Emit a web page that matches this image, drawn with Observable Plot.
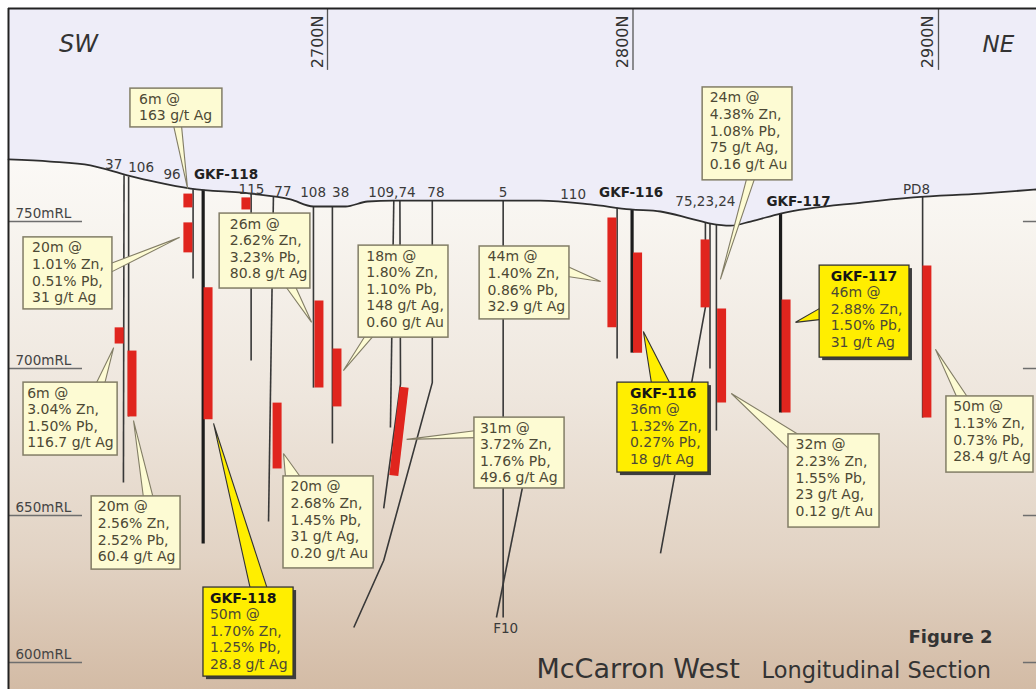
<!DOCTYPE html>
<html><head><meta charset="utf-8">
<script src="https://cdn.jsdelivr.net/npm/d3@7"></script>
<script src="https://cdn.jsdelivr.net/npm/@observablehq/plot@0.6"></script>
<style>
html,body{margin:0;padding:0;background:#fff;overflow:hidden;}
#chart svg{display:block;}
</style></head><body><div id="chart"></div>
<script>
// ---- frame (northing in m, RL in m) ----
const northingDomain = [2595.58, 2932.08];
const rlDomain = [590.82, 822.45];
const northingTicks = [2700, 2800, 2900];
const northingTickBottom = 801.4;
const rlTicks = [600, 650, 700, 750];
const rlTickLeftEnd = 2619.8;
const rlTickRightStart = 2927.8;

// ---- topographic surface ----
const surface = [
  [2595.6,771.1],[2609.3,770.4],[2622.4,769.1],[2634.5,765.7],[2644.4,763.3],[2655.2,761.2],
  [2674.8,759.5],[2687.9,757.5],[2695.4,755.1],[2705.9,755.1],[2713.1,756.8],[2721.6,757.1],
  [2769.7,757.1],[2786.1,755.8],[2799.2,754.1],[2809.0,753.4],[2818.8,751.0],[2825.4,749.3],
  [2831.9,748.6],[2838.5,750.0],[2848.3,752.7],[2875.5,756.5],[2891.8,758.2],[2913.8,759.5],
  [2932.1,760.9]
];

// ---- drill hole traces ----
const holes = [
  {name:"37", heavy:false, path:[[2633.4,765.7],[2633.2,661.2]]},
  {name:"106", heavy:false, path:[[2634.9,765.3],[2634.9,683.7]]},
  {name:"96", heavy:false, path:[[2656.0,761.0],[2656.0,730.6]]},
  {name:"GKF-118", heavy:true, path:[[2659.3,760.8],[2659.3,640.5]]},
  {name:"115", heavy:false, path:[[2675.0,759.5],[2675.0,702.7]]},
  {name:"77", heavy:false, path:[[2682.3,758.5],[2680.7,648.0]]},
  {name:"108", heavy:false, path:[[2695.4,755.1],[2695.4,693.5]]},
  {name:"38", heavy:false, path:[[2701.6,755.1],[2701.6,674.5]]},
  {name:"109", heavy:false, path:[[2721.7,757.1],[2720.6,679.9]]},
  {name:"74", heavy:false, path:[[2723.7,757.1],[2723.9,694.8],[2718.4,652.4]]},
  {name:"78", heavy:false, path:[[2734.3,757.1],[2734.3,695.2],[2718.4,634.7],[2708.6,611.9]]},
  {name:"5", heavy:false, path:[[2757.5,757.1],[2757.5,615.3]]},
  {name:"F10", heavy:false, path:[[2763.8,659.5],[2755.3,615.3]]},
  {name:"110", heavy:false, path:[[2794.8,754.7],[2794.8,703.4]]},
  {name:"GKF-116", heavy:true, path:[[2799.7,754.1],[2799.7,705.4]]},
  {name:"75", heavy:false, path:[[2823.7,749.7],[2823.7,720.8],[2809.0,637.1]]},
  {name:"23", heavy:false, path:[[2825.2,749.3],[2825.2,700.0]]},
  {name:"24", heavy:false, path:[[2827.3,749.1],[2827.3,678.9]]},
  {name:"GKF-117", heavy:true, path:[[2848.3,752.7],[2848.3,685.0]]},
  {name:"PD8", heavy:false, path:[[2894.8,758.4],[2894.8,683.3]]}
];

// ---- mineralised intercepts ----
const intercepts = [
  {hole:"37", x1:2631.8, y1:714.0, x2:2631.8, y2:708.5},
  {hole:"106", x1:2636.0, y1:706.1, x2:2636.0, y2:683.7},
  {hole:"96", x1:2654.3, y1:759.5, x2:2654.3, y2:754.8},
  {hole:"96", x1:2654.3, y1:749.7, x2:2654.3, y2:739.5},
  {hole:"GKF-118", x1:2660.9, y1:727.6, x2:2660.9, y2:682.7},
  {hole:"115", x1:2673.3, y1:758.2, x2:2673.3, y2:754.1},
  {hole:"77", x1:2683.5, y1:688.4, x2:2683.5, y2:666.0},
  {hole:"108", x1:2697.2, y1:723.1, x2:2697.2, y2:693.5},
  {hole:"38", x1:2703.1, y1:706.8, x2:2703.1, y2:687.1},
  {hole:"74", x1:2725.1, y1:693.6, x2:2721.7, y2:663.6},
  {hole:"110", x1:2793.1, y1:751.4, x2:2793.1, y2:714.0},
  {hole:"GKF-116", x1:2801.5, y1:739.5, x2:2801.5, y2:705.4},
  {hole:"75", x1:2823.6, y1:743.9, x2:2823.6, y2:720.8},
  {hole:"24", x1:2829.0, y1:720.4, x2:2829.0, y2:688.4},
  {hole:"GKF-117", x1:2850.1, y1:723.5, x2:2850.1, y2:685.0},
  {hole:"PD8", x1:2896.2, y1:735.0, x2:2896.2, y2:683.3}
];

// ---- callout boxes ----
const callouts = [
  {id:1, hi:false, x1:2635.5, x2:2665.6, top:795.2, bottom:782.0, tx:2638.3, title:"", body:"6m @\n163 g/t Ag", wedge:[[2649.6,782.7],[2654.2,761.2],[2652.2,782.7]]},
  {id:2, hi:false, x1:2600.5, x2:2629.6, top:744.6, bottom:720.1, tx:2603.3, title:"", body:"20m @\n1.01% Zn,\n0.51% Pb,\n31 g/t Ag", wedge:[[2629.0,735.7],[2651.6,744.6],[2629.0,732.7]]},
  {id:3, hi:false, x1:2600.5, x2:2631.3, top:695.2, bottom:670.4, tx:2601.7, title:"", body:"6m @\n3.04% Zn,\n1.50% Pb,\n116.7 g/t Ag", wedge:[[2624.1,694.6],[2630.0,707.1],[2627.0,694.6]]},
  {id:4, hi:false, x1:2622.8, x2:2651.9, top:656.5, bottom:631.6, tx:2624.8, title:"", body:"20m @\n2.56% Zn,\n2.52% Pb,\n60.4 g/t Ag", wedge:[[2639.8,655.8],[2636.5,682.3],[2643.0,655.8]]},
  {id:5, hi:false, x1:2664.7, x2:2694.4, top:752.7, bottom:727.2, tx:2668.0, title:"", body:"26m @\n2.62% Zn,\n3.23% Pb,\n80.8 g/t Ag", wedge:[[2686.3,727.9],[2694.8,715.7],[2689.5,727.9]]},
  {id:6, hi:false, x1:2710.2, x2:2739.6, top:741.8, bottom:710.5, tx:2712.7, title:"", body:"18m @\n1.80% Zn,\n1.10% Pb,\n148 g/t Ag,\n0.60 g/t Au", wedge:[[2712.4,711.2],[2705.2,699.3],[2715.1,711.2]]},
  {id:7, hi:false, x1:2749.8, x2:2779.2, top:741.5, bottom:716.7, tx:2752.4, title:"", body:"44m @\n1.40% Zn,\n0.86% Pb,\n32.9 g/t Ag", wedge:[[2778.6,734.7],[2789.4,729.6],[2778.6,731.3]]},
  {id:8, hi:false, x1:2748.1, x2:2777.6, top:683.3, bottom:659.2, tx:2749.9, title:"", body:"31m @\n3.72% Zn,\n1.76% Pb,\n49.6 g/t Ag", wedge:[[2748.8,678.9],[2725.9,675.9],[2748.8,676.5]]},
  {id:9, hi:true, x1:2794.9, x2:2824.7, top:695.2, bottom:664.6, tx:2799.0, title:"GKF-116", body:"36m @\n1.32% Zn,\n0.27% Pb,\n18 g/t Ag", wedge:[[2806.1,694.6],[2803.4,712.6],[2812.3,694.6]]},
  {id:10, hi:false, x1:2822.8, x2:2852.2, top:795.6, bottom:764.0, tx:2825.1, title:"", body:"24m @\n4.38% Zn,\n1.08% Pb,\n75 g/t Ag,\n0.16 g/t Au", wedge:[[2837.2,764.6],[2828.6,730.3],[2839.8,764.6]]},
  {id:11, hi:true, x1:2861.1, x2:2890.5, top:735.0, bottom:703.7, tx:2864.7, title:"GKF-117", body:"46m @\n2.88% Zn,\n1.50% Pb,\n31 g/t Ag", wedge:[[2861.7,720.8],[2853.2,715.7],[2861.7,716.7]]},
  {id:12, hi:false, x1:2850.9, x2:2880.7, top:677.6, bottom:645.9, tx:2853.2, title:"", body:"32m @\n2.23% Zn,\n1.55% Pb,\n23 g/t Ag,\n0.12 g/t Au", wedge:[[2851.6,672.1],[2832.2,691.5],[2855.2,676.9]]},
  {id:13, hi:false, x1:2902.6, x2:2931.1, top:690.5, bottom:664.6, tx:2904.8, title:"", body:"50m @\n1.13% Zn,\n0.73% Pb,\n28.4 g/t Ag", wedge:[[2906.2,689.8],[2899.0,706.5],[2909.8,689.8]]},
  {id:14, hi:true, x1:2659.4, x2:2688.9, top:625.5, bottom:595.2, tx:2661.5, title:"GKF-118", body:"50m @\n1.70% Zn,\n1.25% Pb,\n28.8 g/t Ag", wedge:[[2674.8,624.8],[2662.7,681.3],[2680.4,624.8]]},
  {id:15, hi:false, x1:2685.6, x2:2715.1, top:663.3, bottom:632.0, tx:2687.9, title:"", body:"20m @\n2.68% Zn,\n1.45% Pb,\n31 g/t Ag,\n0.20 g/t Au", wedge:[[2686.3,662.6],[2685.6,671.1],[2691.5,662.6]]}
];

// ---- hole labels ----
const holeLabels = [
  {text:"37", x:2630.0, y:768.0, bold:false},
  {text:"106", x:2639.0, y:766.7, bold:false},
  {text:"96", x:2649.1, y:764.6, bold:false},
  {text:"GKF-118", x:2666.8, y:764.6, bold:true},
  {text:"115", x:2675.1, y:759.5, bold:false},
  {text:"77", x:2685.4, y:758.8, bold:false},
  {text:"108", x:2695.3, y:758.5, bold:false},
  {text:"38", x:2704.3, y:758.5, bold:false},
  {text:"109,74", x:2721.1, y:758.2, bold:false},
  {text:"78", x:2735.5, y:758.5, bold:false},
  {text:"5", x:2757.5, y:758.5, bold:false},
  {text:"110", x:2780.4, y:757.8, bold:false},
  {text:"GKF-116", x:2799.4, y:758.2, bold:true},
  {text:"75,23,24", x:2823.7, y:755.4, bold:false},
  {text:"GKF-117", x:2854.2, y:755.4, bold:true},
  {text:"PD8", x:2892.8, y:759.5, bold:false},
  {text:"F10", x:2758.3, y:609.9, bold:false}
];

// ---- titles ----
const titles = [
  {text:"SW", x:2618.5, y:807.5, anchor:"middle", size:24, weight:"normal", style:"italic"},
  {text:"NE", x:2919.6, y:807.5, anchor:"middle", size:23, weight:"normal", style:"italic"},
  {text:"Figure 2", x:2917.7, y:606.8, anchor:"end", size:18, weight:"bold", style:"normal"},
  {text:"McCarron West", x:2768.4, y:594.9, anchor:"start", size:27, weight:"normal", style:"normal"},
  {text:"Longitudinal Section", x:2842.1, y:594.9, anchor:"start", size:22.5, weight:"normal", style:"normal"}
];

// ---- derived tables ----
const holePts = holes.flatMap(h => h.path.map(([x, y]) => ({name: h.name, heavy: h.heavy, x, y})));
const wedgePts = callouts.flatMap(c => c.wedge.map(([x, y]) => ({id: c.id, hi: c.hi, x, y})));
const plain = callouts.filter(c => !c.hi);
const hiBoxes = callouts.filter(c => c.hi);

const FONT = "'DejaVu Sans', Verdana, sans-serif";
const BOX_FILL = "#fdfbd3", BOX_STROKE = "#827d66", HI_FILL = "#ffee00";
const TXT = "#4d4935";
const LH = 1.186;

const defsMark = () => {
  const defs = d3.create("svg:defs");
  const g = defs.append("linearGradient").attr("id", "groundGrad")
    .attr("x1", 0).attr("y1", 0).attr("x2", 0).attr("y2", 1);
  [[0, "#fbf9f6"], [0.12, "#f8f5f0"], [0.45, "#eee6dd"], [0.75, "#e2d3c4"], [1, "#d3bba5"]]
    .forEach(([o, c]) => g.append("stop").attr("offset", o).attr("stop-color", c));
  return defs.node();
};

const chart = Plot.plot({
  width: 1036, height: 689,
  marginLeft: 8, marginTop: 8, marginRight: 0, marginBottom: 0,
  x: {domain: northingDomain, axis: null},
  y: {domain: rlDomain, axis: null},
  style: {fontFamily: FONT, background: "#fff", overflow: "visible"},
  marks: [
    defsMark,
    Plot.areaY(surface, {x: d => d[0], y1: () => rlDomain[0], y2: d => d[1], fill: "url(#groundGrad)", curve: "monotone-x"}),
    Plot.areaY(surface, {x: d => d[0], y1: d => d[1], y2: () => rlDomain[1], fill: "#eeedf8", curve: "monotone-x"}),
    // RL ticks
    Plot.ruleY(rlTicks, {x1: () => northingDomain[0], x2: () => rlTickLeftEnd, stroke: "#6e6e6e", strokeWidth: 1.5}),
    Plot.ruleY(rlTicks, {x1: () => rlTickRightStart, x2: () => northingDomain[1], stroke: "#6e6e6e", strokeWidth: 1.5}),
    Plot.text(rlTicks, {x: () => northingDomain[0], y: d => d, text: d => d + "mRL", textAnchor: "start", lineAnchor: "bottom", dx: 7, dy: -4, fontSize: 13.5, fill: "#444"}),
    // northing ticks
    Plot.ruleX(northingTicks, {y1: () => northingTickBottom, y2: () => rlDomain[1], stroke: "#555", strokeWidth: 1.3}),
    Plot.text(northingTicks, {x: d => d, y: () => rlDomain[1], text: d => d + "N", rotate: -90, textAnchor: "end", lineAnchor: "bottom", dx: -5, dy: 7, fontSize: 16, fill: "#333"}),
    // drill holes
    Plot.line(holePts.filter(d => !d.heavy), {x: "x", y: "y", z: "name", stroke: "#383838", strokeWidth: 1.6, strokeLinecap: "butt"}),
    Plot.line(holePts.filter(d => d.heavy), {x: "x", y: "y", z: "name", stroke: "#1c1c1c", strokeWidth: 3.2, strokeLinecap: "butt"}),
    // intercepts
    Plot.link(intercepts, {x1: "x1", y1: "y1", x2: "x2", y2: "y2", stroke: "#e0251e", strokeWidth: 9, strokeLinecap: "butt"}),
    // surface
    Plot.line(surface, {x: d => d[0], y: d => d[1], stroke: "#2e2e2e", strokeWidth: 1.8, curve: "monotone-x"}),
    // frame border
    Plot.ruleY([rlDomain[1]], {stroke: "#222", strokeWidth: 2}),
    Plot.ruleX([northingDomain[0]], {stroke: "#222", strokeWidth: 2}),
    // callout pointers
    Plot.line(wedgePts.filter(d => !d.hi), {x: "x", y: "y", z: "id", fill: BOX_FILL, stroke: BOX_STROKE, strokeWidth: 1.1, strokeLinejoin: "miter"}),
    Plot.line(wedgePts.filter(d => d.hi), {x: "x", y: "y", z: "id", fill: HI_FILL, stroke: "#333", strokeWidth: 1.1, strokeLinejoin: "miter"}),
    // boxes
    Plot.rect(hiBoxes, {x1: "x1", x2: "x2", y1: "bottom", y2: "top", dx: 3, dy: 3, fill: "#3d3d3d"}),
    Plot.rect(plain, {x1: "x1", x2: "x2", y1: "bottom", y2: "top", fill: BOX_FILL, stroke: BOX_STROKE, strokeWidth: 1.5}),
    Plot.rect(hiBoxes, {x1: "x1", x2: "x2", y1: "bottom", y2: "top", fill: HI_FILL, stroke: "#333", strokeWidth: 1.3}),
    Plot.text(plain, {x: "tx", y: "top", text: "body", textAnchor: "start", lineAnchor: "top", lineHeight: LH, dy: 3.2, fontSize: 14, fill: TXT}),
    Plot.text(hiBoxes, {x: "tx", y: "top", text: "title", textAnchor: "start", lineAnchor: "top", lineHeight: LH, dy: 3.2, fontSize: 14, fontWeight: "bold", fill: "#151515"}),
    Plot.text(hiBoxes, {x: "tx", y: "top", text: "body", textAnchor: "start", lineAnchor: "top", lineHeight: LH, dy: 19.8, fontSize: 14, fill: TXT}),
    // hole labels
    Plot.text(holeLabels.filter(d => !d.bold), {x: "x", y: "y", text: "text", textAnchor: "middle", lineAnchor: "bottom", fontSize: 13.5, fill: "#3a3a3a"}),
    Plot.text(holeLabels.filter(d => d.bold), {x: "x", y: "y", text: "text", textAnchor: "middle", lineAnchor: "bottom", fontSize: 13.5, fontWeight: "bold", fill: "#222"}),
    // titles
    ...titles.map(t => Plot.text([t], {x: "x", y: "y", text: "text", textAnchor: t.anchor, lineAnchor: "bottom", fontSize: t.size, fontWeight: t.weight, fontStyle: t.style, fill: "#333"}))
  ]
});
document.getElementById("chart").appendChild(chart);
</script>
</body></html>
